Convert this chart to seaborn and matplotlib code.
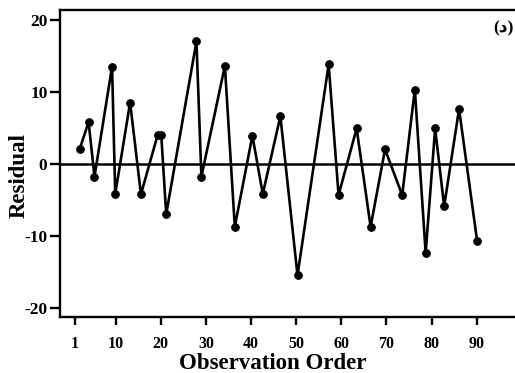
import pandas as pd
import matplotlib
matplotlib.use("Agg")
import matplotlib.pyplot as plt
import seaborn as sns

# observation order and residual values
order = [2, 4, 5.3, 9.2, 9.9, 13.2, 15.6, 19.3, 20.1, 21.2,
         27.9, 29.0, 34.2, 36.4, 40.3, 42.6, 46.5, 50.3, 57.2, 59.4,
         63.4, 66.5, 69.7, 73.5, 76.3, 78.7, 80.8, 82.8, 86.1, 90.1]
residual = [2.0, 5.8, -1.8, 13.5, -4.2, 8.5, -4.25, 4.0, 4.0, -7.0,
            17.0, -1.8, 13.6, -8.75, 3.9, -4.2, 6.6, -15.5, 13.8, -4.35,
            4.9, -8.75, 2.0, -4.35, 10.3, -12.4, 4.9, -5.9, 7.6, -10.7]
xticks = [1, 10, 20, 30, 40, 50, 60, 70, 80, 90]
yticks = [-20, -10, 0, 10, 20]

df = pd.DataFrame({"order": order, "residual": residual})

sns.set_style("ticks")
plt.rcParams["font.family"] = ["Liberation Serif", "DejaVu Sans"]
plt.rcParams["font.weight"] = "bold"
plt.rcParams["axes.unicode_minus"] = False
plt.rcParams["text.color"] = "black"
plt.rcParams["axes.labelcolor"] = "black"

fig = plt.figure(figsize=(5.15, 3.73), dpi=100)
ax = fig.add_axes([0.1165, 0.150, 0.8835, 0.823])

ax.axhline(0, color="black", lw=1.8, zorder=1)
sns.lineplot(data=df, x="order", y="residual", ax=ax, color="black",
             lw=1.9, marker="o", markersize=5.5, markeredgecolor="black",
             zorder=3)

ax.set_xlim(-2.34, 98.5)
ax.set_ylim(-21.3, 21.35)
ax.set_xticks(xticks)
ax.set_yticks(yticks)
ax.tick_params(axis="both", width=1.7, colors="black")
ax.tick_params(axis="y", length=7, pad=2, labelsize=12.5)
ax.tick_params(axis="x", length=6, pad=8, labelsize=11.5)
for lab in ax.get_xticklabels() + ax.get_yticklabels():
    lab.set_fontweight("bold")

for side in ["left", "top", "bottom"]:
    ax.spines[side].set_linewidth(1.7)
    ax.spines[side].set_color("black")
ax.spines["right"].set_visible(False)

ax.set_xlabel("Observation Order", fontsize=16.5, fontweight="bold", va="center")
ax.xaxis.set_label_coords(0.467, -0.15)
ax.set_ylabel("Residual", fontsize=16.5, fontweight="bold", va="center")
ax.yaxis.set_label_coords(-0.089, 0.46)

ax.text(0.998, 0.94, "(د)", transform=ax.transAxes, ha="right", va="center",
        fontsize=12.5, fontweight="bold", family=["Liberation Serif", "DejaVu Sans"])

fig.savefig("out.png", dpi=100)
